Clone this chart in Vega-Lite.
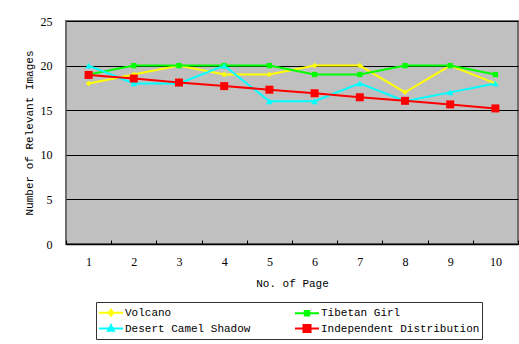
{
  "$schema": "https://vega.github.io/schema/vega-lite/v6.json",
  "width": 452,
  "height": 223,
  "autosize": {"type": "none"},
  "padding": {"left": 66, "top": 21, "right": 1, "bottom": 100},
  "background": "white",
  "config": {
    "view": {"fill": "#C0C0C0", "stroke": "#6E6E6E", "strokeWidth": 2},
    "font": "Liberation Mono"
  },
  "data": {
    "values": [
      {"page": "1", "series": "Volcano", "value": 18},
      {"page": "2", "series": "Volcano", "value": 19},
      {"page": "3", "series": "Volcano", "value": 20},
      {"page": "4", "series": "Volcano", "value": 19},
      {"page": "5", "series": "Volcano", "value": 19},
      {"page": "6", "series": "Volcano", "value": 20},
      {"page": "7", "series": "Volcano", "value": 20},
      {"page": "8", "series": "Volcano", "value": 17},
      {"page": "9", "series": "Volcano", "value": 20},
      {"page": "10", "series": "Volcano", "value": 18},
      {"page": "1", "series": "Tibetan Girl", "value": 19},
      {"page": "2", "series": "Tibetan Girl", "value": 20},
      {"page": "3", "series": "Tibetan Girl", "value": 20},
      {"page": "4", "series": "Tibetan Girl", "value": 20},
      {"page": "5", "series": "Tibetan Girl", "value": 20},
      {"page": "6", "series": "Tibetan Girl", "value": 19},
      {"page": "7", "series": "Tibetan Girl", "value": 19},
      {"page": "8", "series": "Tibetan Girl", "value": 20},
      {"page": "9", "series": "Tibetan Girl", "value": 20},
      {"page": "10", "series": "Tibetan Girl", "value": 19},
      {"page": "1", "series": "Desert Camel Shadow", "value": 20},
      {"page": "2", "series": "Desert Camel Shadow", "value": 18},
      {"page": "3", "series": "Desert Camel Shadow", "value": 18},
      {"page": "4", "series": "Desert Camel Shadow", "value": 20},
      {"page": "5", "series": "Desert Camel Shadow", "value": 16},
      {"page": "6", "series": "Desert Camel Shadow", "value": 16},
      {"page": "7", "series": "Desert Camel Shadow", "value": 18},
      {"page": "8", "series": "Desert Camel Shadow", "value": 16},
      {"page": "9", "series": "Desert Camel Shadow", "value": 17},
      {"page": "10", "series": "Desert Camel Shadow", "value": 18},
      {"page": "1", "series": "Independent Distribution", "value": 18.95},
      {"page": "2", "series": "Independent Distribution", "value": 18.55},
      {"page": "3", "series": "Independent Distribution", "value": 18.1},
      {"page": "4", "series": "Independent Distribution", "value": 17.7},
      {"page": "5", "series": "Independent Distribution", "value": 17.3},
      {"page": "6", "series": "Independent Distribution", "value": 16.9},
      {"page": "7", "series": "Independent Distribution", "value": 16.45},
      {"page": "8", "series": "Independent Distribution", "value": 16.05},
      {"page": "9", "series": "Independent Distribution", "value": 15.65},
      {"page": "10", "series": "Independent Distribution", "value": 15.2}
    ]
  },
  "encoding": {
    "x": {
      "field": "page",
      "type": "ordinal",
      "sort": null,
      "scale": {"type": "band", "paddingInner": 0, "paddingOuter": 0},
      "axis": {
        "title": "No. of Page",
        "titleFont": "Liberation Mono",
        "titleFontSize": 11,
        "titleFontWeight": "normal",
        "titleColor": "black",
        "titlePadding": 10,
        "labelAngle": 0,
        "labelFont": "Liberation Serif",
        "labelFontSize": 12,
        "labelColor": "black",
        "labelPadding": 16,
        "tickBand": "extent",
        "tickSize": -4,
        "tickColor": "black",
        "domainColor": "black",
        "domainWidth": 1.5,
        "grid": false
      }
    },
    "y": {
      "field": "value",
      "type": "quantitative",
      "scale": {"domain": [0, 25], "nice": false, "zero": true},
      "axis": {
        "title": "Number of Relevant Images",
        "titleFont": "Liberation Mono",
        "titleFontSize": 11,
        "titleFontWeight": "normal",
        "titleColor": "black",
        "titlePadding": 6,
        "values": [0, 5, 10, 15, 20, 25],
        "labelFont": "Liberation Serif",
        "labelFontSize": 12,
        "labelColor": "black",
        "labelPadding": 14,
        "ticks": false,
        "domain": false,
        "grid": true,
        "gridColor": "black",
        "gridOpacity": 1,
        "gridWidth": 1
      }
    },
    "color": {
      "field": "series",
      "type": "nominal",
      "scale": {
        "domain": ["Volcano", "Tibetan Girl", "Desert Camel Shadow", "Independent Distribution"],
        "range": ["#FFFF00", "#00FF00", "#00FFFF", "#FF0000"]
      },
      "legend": {
        "title": null,
        "orient": "none",
        "direction": "horizontal",
        "legendX": 30,
        "legendY": 281,
        "columns": 2,
        "columnPadding": 40,
        "rowPadding": 0,
        "padding": 2,
        "strokeColor": "#333333",
        "fillColor": "white",
        "labelFont": "Liberation Mono",
        "labelFontSize": 11,
        "labelColor": "black",
        "labelOffset": 10,
        "symbolSize": 225,
        "symbolStrokeWidth": 2,
        "encoding": {
          "symbols": {
            "shape": {"value": {"expr": "datum.value === 'Volcano' ? 'M-1,0H2.2M0.6,-0.4L0.9,0L0.6,0.4L0.3,0Z' : datum.value === 'Tibetan Girl' ? 'M-1,0H2.2M0.3,-0.3H0.9V0.3H0.3Z' : datum.value === 'Desert Camel Shadow' ? 'M-1,0H2.2M0.6,-0.45L1.0,0.3H0.2Z' : 'M-1,0H2.2M0.13,-0.47H1.07V0.47H0.13Z'"}},
            "fill": {"value": {"expr": "datum.value === 'Volcano' ? '#FFFF00' : datum.value === 'Tibetan Girl' ? '#00FF00' : datum.value === 'Desert Camel Shadow' ? '#00FFFF' : '#FF0000'"}},
            "stroke": {"value": {"expr": "datum.value === 'Volcano' ? '#FFFF00' : datum.value === 'Tibetan Girl' ? '#00FF00' : datum.value === 'Desert Camel Shadow' ? '#00FFFF' : '#FF0000'"}},
            "strokeWidth": {"value": 2},
            "opacity": {"value": 1},
            "fillOpacity": {"value": 1},
            "strokeOpacity": {"value": 1}
          }
        }
      }
    }
  },
  "layer": [
    {"mark": {"type": "line", "strokeWidth": 2}},
    {
      "transform": [{"filter": "datum.series === 'Volcano'"}],
      "mark": {"type": "point", "filled": true, "opacity": 1, "shape": "diamond", "size": 30}
    },
    {
      "transform": [{"filter": "datum.series === 'Tibetan Girl'"}],
      "mark": {"type": "point", "filled": true, "opacity": 1, "shape": "square", "size": 28}
    },
    {
      "transform": [{"filter": "datum.series === 'Desert Camel Shadow'"}],
      "mark": {"type": "point", "filled": true, "opacity": 1, "shape": "triangle-up", "size": 45}
    },
    {
      "transform": [{"filter": "datum.series === 'Independent Distribution'"}],
      "mark": {"type": "point", "filled": true, "opacity": 1, "shape": "square", "size": 64}
    }
  ]
}
